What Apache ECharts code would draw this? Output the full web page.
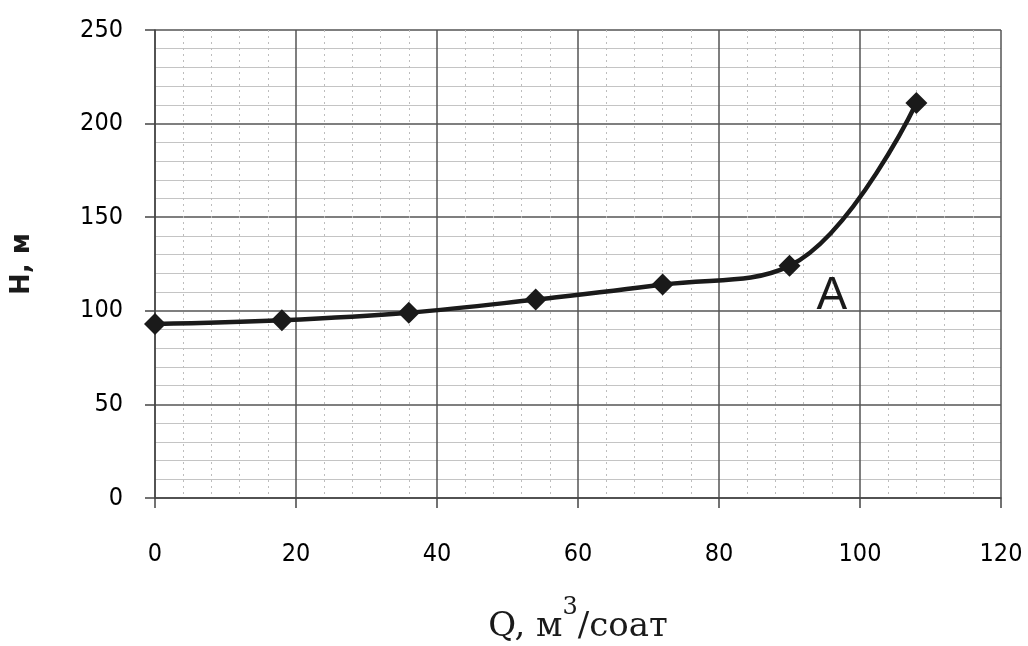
<!DOCTYPE html>
<html>
<head>
<meta charset="utf-8">
<script src="https://cdn.jsdelivr.net/npm/echarts@6/dist/echarts.min.js"></script>
<style>
  html, body { margin: 0; padding: 0; background: #fff; }
  #chart { width: 1028px; height: 646px; }
</style>
</head>
<body>
<div id="chart"></div>
<script>
// Q, м3/соат
var qValues = [0, 18, 36, 54, 72, 90, 108];
// H, м
var hValues = [93, 95, 99, 106, 114, 124, 211];
var pointA = [96, 108];

var chart = echarts.init(document.getElementById('chart'));

var points = qValues.map(function (q, i) { return [q, hValues[i]]; });

var option = {
  animation: false,
  backgroundColor: '#fff',
  grid: { left: 155, right: 27, top: 30, bottom: 148, outerBoundsMode: 'none', containLabel: false },
  xAxis: {
    type: 'value',
    min: 0, max: 120, interval: 20,
    name: '{t|Q, м}{sup|3}{t|/соат}',
    nameLocation: 'middle',
    nameGap: 106,
    nameTextStyle: {
      rich: {
        t: { fontFamily: 'DejaVu Serif', fontSize: 34, color: '#1a1a1a', verticalAlign: 'bottom', lineHeight: 40 },
        sup: { fontFamily: 'DejaVu Serif', fontSize: 24, color: '#1a1a1a', verticalAlign: 'bottom', lineHeight: 40, padding: [0, 0, 24, 0] }
      }
    },
    axisLine: { show: true, onZero: false, lineStyle: { color: '#444', width: 1.5 } },
    axisTick: { show: true, inside: false, length: 10, lineStyle: { color: '#444', width: 1.5 } },
    axisLabel: { margin: 44, fontFamily: 'DejaVu Sans Condensed, DejaVu Sans', fontSize: 25, color: '#000' },
    splitLine: { show: true, lineStyle: { color: '#555', width: 1.5 } },
    minorTick: { show: false, splitNumber: 5 },
    minorSplitLine: { show: true, lineStyle: { color: '#bdbdbd', width: 1, type: [2, 4] } }
  },
  yAxis: {
    type: 'value',
    min: 0, max: 250, interval: 50,
    name: 'Н, м',
    nameLocation: 'middle',
    nameGap: 120,
    nameTextStyle: { fontFamily: 'DejaVu Sans', fontWeight: 'bold', fontSize: 26, color: '#1a1a1a' },
    axisLine: { show: true, lineStyle: { color: '#444', width: 1.5 } },
    axisTick: { show: true, inside: false, length: 10, lineStyle: { color: '#444', width: 1.5 } },
    axisLabel: { margin: 32, fontFamily: 'DejaVu Sans Condensed, DejaVu Sans', fontSize: 25, color: '#000' },
    splitLine: { show: true, lineStyle: { color: '#555', width: 1.5 } },
    minorTick: { show: false, splitNumber: 5 },
    minorSplitLine: { show: true, lineStyle: { color: '#c4c4c4', width: 1 } }
  },
  series: [{
    type: 'line',
    data: points,
    smooth: 0.4,
    symbol: 'diamond',
    symbolSize: 22,
    itemStyle: { color: '#1a1a1a' },
    lineStyle: { color: '#1a1a1a', width: 4.5 },
    markPoint: {
      symbol: 'circle',
      symbolSize: 2,
      itemStyle: { color: 'rgba(0,0,0,0)' },
      data: [{ coord: pointA, value: 'A' }],
      label: {
        show: true,
        formatter: 'A',
        fontFamily: 'Liberation Sans',
        fontSize: 46,
        color: '#1a1a1a',
        position: 'inside'
      }
    }
  }]
};

chart.setOption(option);
</script>
</body>
</html>
